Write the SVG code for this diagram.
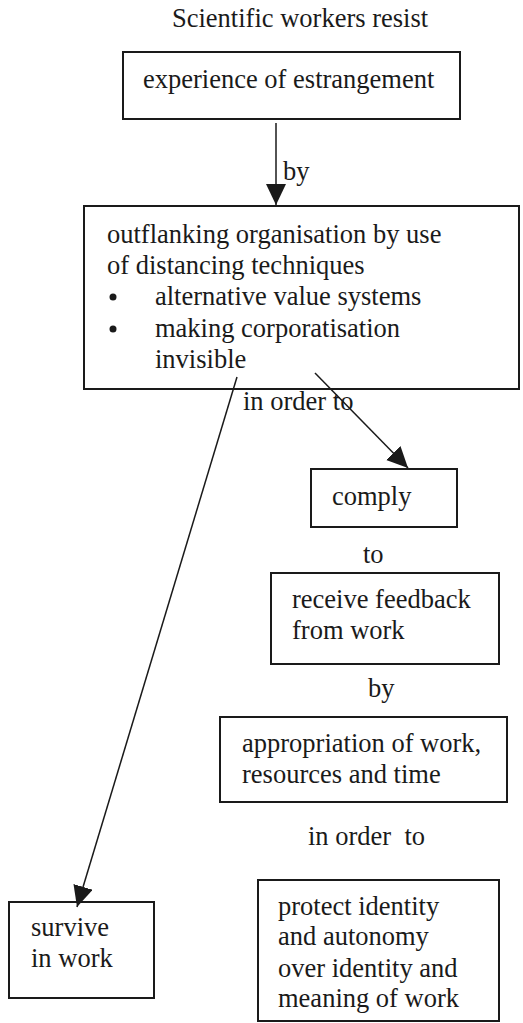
<svg xmlns="http://www.w3.org/2000/svg" width="523" height="1023" viewBox="0 0 523 1023" font-family="'Liberation Serif', 'Times New Roman', serif">
<style>
text{font-family:"Liberation Serif","Times New Roman",serif;font-size:26.5px;fill:#1a1a1a}
.box{fill:none;stroke:#1a1a1a;stroke-width:2}
.conn{fill:none;stroke:#1a1a1a;stroke-width:1.5}
</style>
<defs>
<marker id="arr" markerUnits="userSpaceOnUse" markerWidth="24" markerHeight="22" refX="21" refY="10" orient="auto">
<path d="M0,0 L21,10 L0,20 Z" fill="#1a1a1a"/>
</marker>
</defs>
<rect width="523" height="1023" fill="#ffffff"/>
<g id="title"><text x="172" y="27">Scientific workers resist</text></g>
<g id="n1"><rect class="box" x="123" y="52" width="337" height="67"/><text x="143" y="88">experience of estrangement</text></g>
<g id="n2"><rect class="box" x="84" y="206" width="435" height="183"/>
<text x="107" y="243">outflanking organisation by use</text>
<text x="107" y="274">of distancing techniques</text>
<circle cx="113" cy="297" r="3.5" fill="#1a1a1a"/>
<text x="155" y="305">alternative value systems</text>
<circle cx="113" cy="329" r="3.5" fill="#1a1a1a"/>
<text x="155" y="337">making corporatisation</text>
<text x="155" y="368">invisible</text></g>
<g id="n3"><rect class="box" x="311" y="469" width="146" height="58"/><text x="332" y="505">comply</text></g>
<g id="n4"><rect class="box" x="271" y="573" width="228" height="91"/><text x="292" y="608">receive feedback</text><text x="292" y="639">from work</text></g>
<g id="n5"><rect class="box" x="220" y="717" width="287" height="85"/><text x="242" y="752">appropriation of work,</text><text x="242" y="783">resources and time</text></g>
<g id="n6"><rect class="box" x="258" y="880" width="241" height="141"/><text x="278" y="915">protect identity</text><text x="278" y="945">and autonomy</text><text x="278" y="977">over identity and</text><text x="278" y="1007">meaning of work</text></g>
<g id="n7"><rect class="box" x="9" y="902" width="145" height="96"/><text x="31" y="936">survive</text><text x="31" y="967">in work</text></g>
<g id="connectors">
<line class="conn" x1="276" y1="123" x2="276" y2="205" marker-end="url(#arr)"/>
<line class="conn" x1="315" y1="373" x2="408" y2="468" marker-end="url(#arr)"/>
<line class="conn" x1="237" y1="377" x2="77" y2="907" marker-end="url(#arr)"/>
</g>
<g id="labels">
<text x="283" y="180">by</text>
<text x="243" y="410">in order to</text>
<text x="363" y="563">to</text>
<text x="368" y="697">by</text>
<text x="308" y="845" xml:space="preserve">in order  to</text>
</g>
</svg>
